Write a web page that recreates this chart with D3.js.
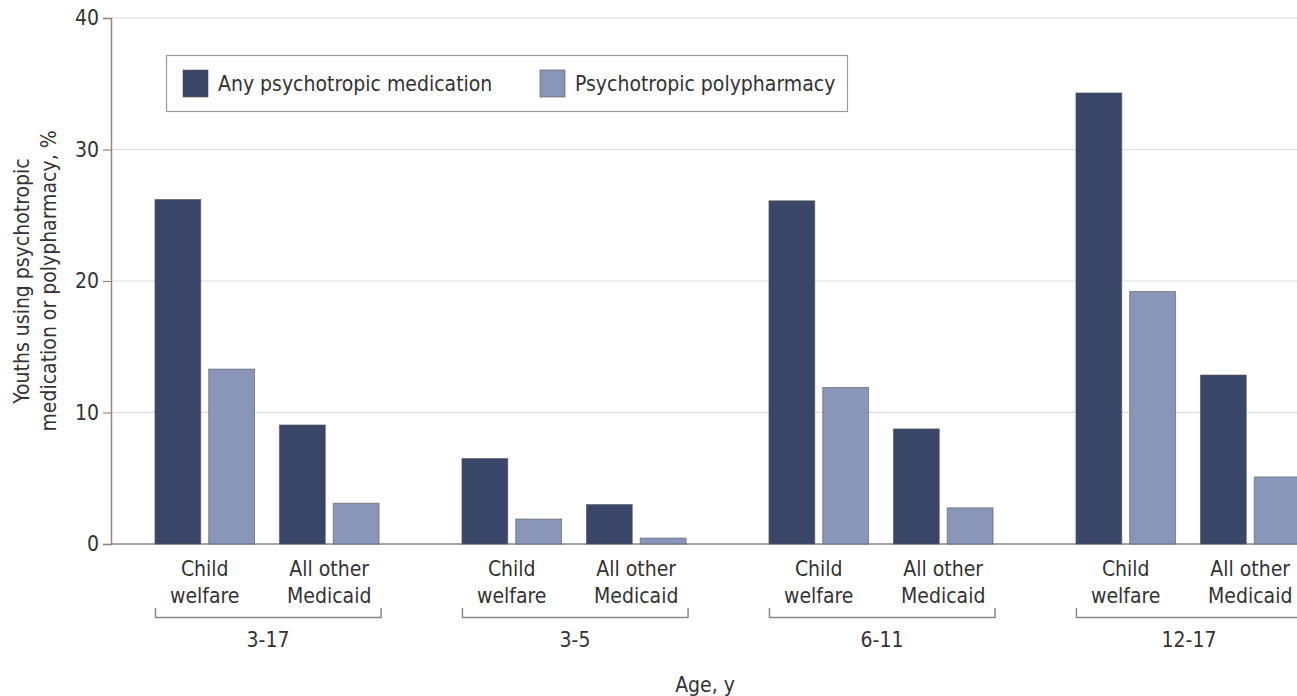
<!DOCTYPE html>
<html>
<head>
<meta charset="utf-8">
<script src="https://cdn.jsdelivr.net/npm/d3@7"></script>
<style>
  body { margin: 0; background: #fff; }
  svg text { font-family: "Liberation Sans Narrow", "DejaVu Sans Condensed", "Roboto", sans-serif; fill: #333; }
</style>
</head>
<body>
<div id="chart"></div>
<script>
// data
var ageGroups = ['3-17', '3-5', '6-11', '12-17'];
var populations = ['Child welfare', 'All other Medicaid'];
var popLines = [['Child', 'welfare'], ['All other', 'Medicaid']];
var seriesNames = ['Any psychotropic medication', 'Psychotropic polypharmacy'];
// [ageGroup][population] -> values
var anyMed = [[26.2, 9.05], [6.5, 3.0], [26.1, 8.75], [34.3, 12.85]];
var polyPharm = [[13.3, 3.1], [1.9, 0.45], [11.9, 2.75], [19.2, 5.1]];
var yTicks = [0, 10, 20, 30, 40];

var width = 1297, height = 696;
var colors = ['#3a4668', '#8996ba'];

var svg = d3.select('#chart').append('svg')
  .attr('width', width)
  .attr('height', height);

var axisX = 111;
var y = d3.scaleLinear().domain([0, 40]).range([544, 18]);

var x0 = d3.scaleBand().domain(ageGroups)
  .range([113.5, 1341.5])
  .paddingInner(0.27)
  .paddingOuter(0.135);
var x1 = d3.scaleBand().domain(populations)
  .range([0, x0.bandwidth()])
  .paddingInner(0.2);
var x2 = d3.scaleBand().domain(seriesNames)
  .range([0, x1.bandwidth()])
  .paddingInner(0.148);

// gridlines
svg.append('g')
  .selectAll('line')
  .data(yTicks.filter(function (d) { return d > 0; }))
  .enter().append('line')
  .attr('x1', axisX).attr('x2', width)
  .attr('y1', function (d) { return y(d); })
  .attr('y2', function (d) { return y(d); })
  .style('stroke', '#dcdcdc')
  .style('stroke-width', 1.2);

// y axis
var yAxis = svg.append('g')
  .attr('transform', 'translate(' + axisX + ',0)')
  .call(d3.axisLeft(y).tickValues(yTicks).tickSize(8).tickPadding(4));
yAxis.select('.domain').style('stroke', '#888').style('stroke-width', 1.5);
yAxis.selectAll('.tick line').style('stroke', '#888').style('stroke-width', 1.2);
yAxis.selectAll('.tick text').style('font-size', '21px').style('fill', '#333');

// baseline
svg.append('line')
  .attr('x1', axisX).attr('x2', width)
  .attr('y1', y(0)).attr('y2', y(0))
  .style('stroke', '#888')
  .style('stroke-width', 1.5);

// y title
var yTitle = svg.append('text')
  .attr('transform', 'translate(22,' + y(20) + ') rotate(-90)')
  .attr('text-anchor', 'middle')
  .style('font-size', '21px');
yTitle.append('tspan').attr('x', 0).attr('dy', '0.35em').text('Youths using psychotropic');
yTitle.append('tspan').attr('x', 0).attr('dy', '1.25em').text('medication or polypharmacy, %');

// bars
var group = svg.selectAll('.age')
  .data(ageGroups)
  .enter().append('g')
  .attr('class', 'age')
  .attr('transform', function (d) { return 'translate(' + x0(d) + ',0)'; });

var sub = group.selectAll('.pop')
  .data(function (d, gi) {
    return populations.map(function (p, pi) {
      return { pop: p, pi: pi, values: [anyMed[gi][pi], polyPharm[gi][pi]] };
    });
  })
  .enter().append('g')
  .attr('class', 'pop')
  .attr('transform', function (d) { return 'translate(' + x1(d.pop) + ',0)'; });

sub.selectAll('rect')
  .data(function (d) {
    return seriesNames.map(function (s, si) { return { s: s, si: si, v: d.values[si] }; });
  })
  .enter().append('rect')
  .attr('x', function (d) { return x2(d.s); })
  .attr('y', function (d) { return y(d.v); })
  .attr('width', x2.bandwidth())
  .attr('height', function (d) { return y(0) - y(d.v); })
  .style('fill', function (d) { return colors[d.si]; })
  .style('stroke', '#555')
  .style('stroke-opacity', 0.6)
  .style('stroke-width', 1);

// population labels
sub.append('text')
  .attr('text-anchor', 'middle')
  .attr('x', x1.bandwidth() / 2)
  .attr('y', 576)
  .style('font-size', '21px')
  .selectAll('tspan')
  .data(function (d) { return popLines[d.pi]; })
  .enter().append('tspan')
  .attr('x', x1.bandwidth() / 2)
  .attr('dy', function (d, i) { return i ? '1.3em' : 0; })
  .text(function (d) { return d; });

// brackets
group.append('path')
  .attr('d', 'M0.5,608V617.5H' + (x0.bandwidth() + 2) + 'V608')
  .style('fill', 'none')
  .style('stroke', '#888')
  .style('stroke-width', 1.5);

group.append('text')
  .attr('x', x0.bandwidth() / 2 + 1)
  .attr('y', 647)
  .attr('text-anchor', 'middle')
  .style('font-size', '21px')
  .text(function (d) { return d; });

// x title
svg.append('text')
  .attr('x', 705)
  .attr('y', 692)
  .attr('text-anchor', 'middle')
  .style('font-size', '21px')
  .text('Age, y');

// legend
var legend = svg.append('g').attr('transform', 'translate(166,55)');
legend.append('rect')
  .attr('x', 0.5).attr('y', 0.5)
  .attr('width', 681).attr('height', 56)
  .style('fill', '#fff')
  .style('stroke', '#999')
  .style('stroke-width', 1.2);
var legX = [17, 374];
var item = legend.selectAll('.item')
  .data(seriesNames)
  .enter().append('g')
  .attr('class', 'item')
  .attr('transform', function (d, i) { return 'translate(' + legX[i] + ',15)'; });
item.append('rect')
  .attr('width', 25).attr('height', 27)
  .style('fill', function (d, i) { return colors[i]; })
  .style('stroke', '#555')
  .style('stroke-opacity', 0.6);
item.append('text')
  .attr('x', 35)
  .attr('y', 14)
  .attr('dy', '0.35em')
  .style('font-size', '21px')
  .text(function (d) { return d; });
</script>
</body>
</html>
